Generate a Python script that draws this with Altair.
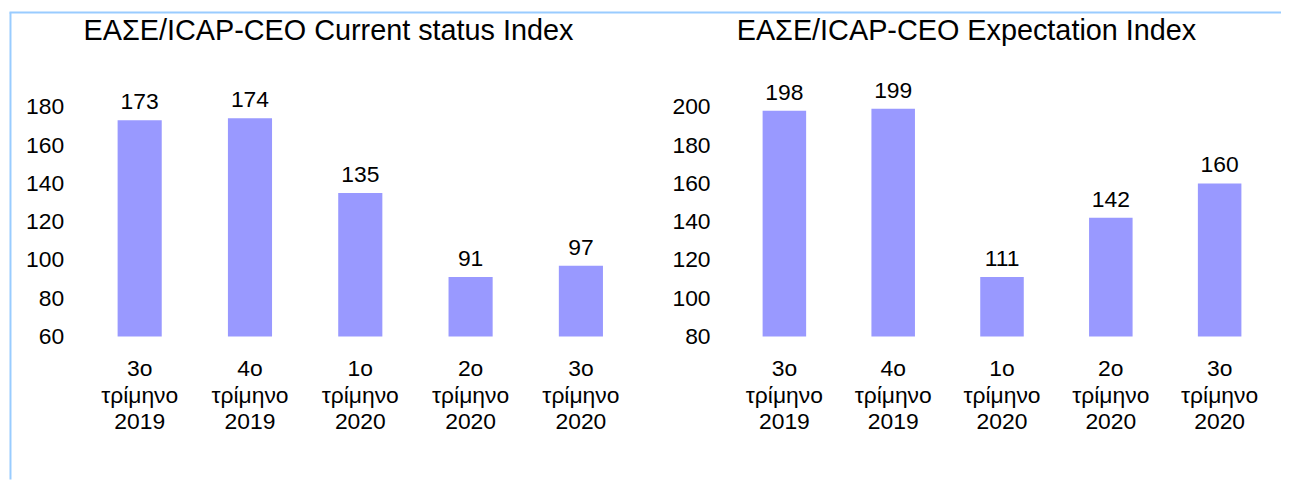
import altair as alt
import pandas as pd

quarters = ["3ο|τρίμηνο|2019", "4ο|τρίμηνο|2019", "1ο|τρίμηνο|2020",
            "2ο|τρίμηνο|2020", "3ο|τρίμηνο|2020"]
current_values = [173, 174, 135, 91, 97]
expect_values = [198, 199, 111, 142, 160]
current_ticks = [60, 80, 100, 120, 140, 160, 180]
expect_ticks = [80, 100, 120, 140, 160, 180, 200]
title_left = "ΕΑΣΕ/ICAP-CEO Current status Index"
title_right = "ΕΑΣΕ/ICAP-CEO Expectation Index"

FONT = "Liberation Sans"
BAR = "#9999FF"
BORDER = "#99CCFF"
LBL = 23


def panel(values, ticks, title, width, height, title_x, ypad, border=False):
    df = pd.DataFrame({"q": quarters, "v": values})
    base = alt.Chart(df)
    x = alt.X("q:N", sort=quarters,
              scale=alt.Scale(paddingInner=0.6, paddingOuter=0.3),
              axis=alt.Axis(title=None, labelAngle=0,
                            labelExpr="split(datum.label, '|')",
                            labelLineHeight=27, labelPadding=21,
                            labelFontSize=LBL, labelFont=FONT,
                            labelColor="black", domain=False, ticks=False,
                            tickSize=0, grid=False))
    y = alt.Y("v:Q",
              scale=alt.Scale(domain=[ticks[0], ticks[-1]], nice=False, zero=False),
              axis=alt.Axis(title=None, values=ticks, labelFontSize=LBL,
                            labelFont=FONT, labelColor="black", domain=False,
                            ticks=False, tickSize=0, grid=False,
                            labelPadding=ypad))
    bars = base.mark_bar(color=BAR).encode(x=x, y=y, y2=alt.datum(ticks[0]))
    labels = base.mark_text(dy=-11, baseline="alphabetic", fontSize=LBL,
                            font=FONT, color="black").encode(
        x=x, y=y, text=alt.Text("v:Q"))
    one = pd.DataFrame({"k": [0]})
    ttl = alt.Chart(one).mark_text(text=title, fontSize=29, font=FONT,
                                   color="black", align="center",
                                   baseline="alphabetic").encode(
        x=alt.value(title_x), y=alt.value(-67))
    layers = [bars, labels, ttl]
    if border:
        vline = alt.Chart(one).mark_rule(color=BORDER, strokeWidth=2).encode(
            x=alt.value(-74.5), y=alt.value(-95), y2=alt.value(375))
        hline = alt.Chart(one).mark_rule(color=BORDER, strokeWidth=2).encode(
            x=alt.value(-75.5), x2=alt.value(1204), y=alt.value(-95))
        layers += [vline, hline]
    return alt.layer(*layers).properties(width=width, height=height)


left = panel(current_values, current_ticks, title_left, 555, 231, 245.5, 21, border=True)
right = panel(expect_values, expect_ticks, title_right, 547.5, 231, 238, 20)

chart = alt.hconcat(left, right, spacing=94.5, bounds="flush").properties(
    padding={"left": 0, "top": 2, "right": 0, "bottom": 0}
).configure(background="white").configure_view(strokeWidth=0, stroke="transparent")

chart.save("out.html", embed_options={"renderer": "svg", "actions": False})
